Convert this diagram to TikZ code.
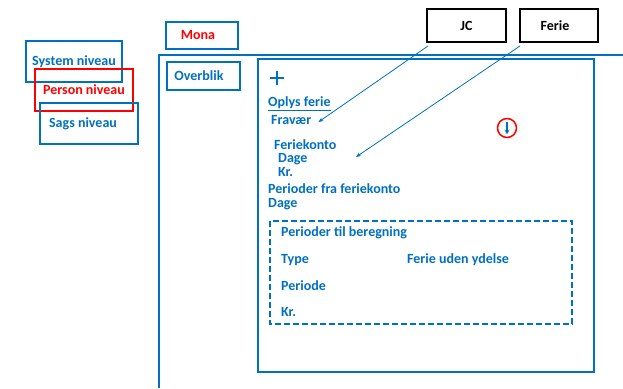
\documentclass[tikz,border=0pt]{standalone}
\usepackage{fontspec}
\setmainfont{Carlito}
\usetikzlibrary{arrows.meta}
\definecolor{mblue}{HTML}{0070C0}
\definecolor{mred}{HTML}{FF0000}
\begin{document}
\begin{tikzpicture}[x=1pt,y=-1pt,font=\bfseries\fontsize{14}{15}\selectfont,
 lvlbox/.style={draw=mblue,line width=1.6pt,text=mblue,inner sep=0pt},
 jcbox/.style={draw=black,line width=1.8pt,minimum height=33pt,inner sep=0pt},
 lbl/.style={text=mblue,anchor=base west,inner sep=0pt},
 pil/.style={draw=mblue,line width=0.8pt,-{Stealth[length=5pt,width=4pt]}}]
 \useasboundingbox (0,0) rectangle (623,388);
 \node[lvlbox,minimum width=96pt,minimum height=41pt] (system) at (74,61.5) {System niveau};
 \node[lvlbox,draw=mred,text=mred,minimum width=98pt,minimum height=42pt] (person) at (84,90) {\raisebox{-3pt}{Person niveau}};
 \node[lvlbox,minimum width=98pt,minimum height=41pt] (sags) at (89,123.5) {\raisebox{-4pt}{\hspace*{-12pt}Sags niveau}};
 \node[lvlbox,text=mred,minimum width=72pt,minimum height=27pt] (mona) at (202,35.5) {\hspace*{-8pt}Mona};
 \node[lvlbox,minimum width=73pt,minimum height=28pt] (overblik) at (203.5,76) {\hspace*{-9pt}Overblik};
 \draw[mblue,line width=1.6pt] (159,388) -- (159,55) -- (623,55);
 \draw[mblue,line width=1.6pt] (258,59) rectangle (594,372);
 \draw[mblue,line width=2.2pt] (270,78) -- (284,78);
 \draw[mblue,line width=2.2pt] (277,71) -- (277,85);
 \node[lbl] (oplys) at (268,106.5) {\underline{Oplys ferie}};
 \node[lbl] (fravaer) at (271,124.5) {Fravær};
 \node[lbl] (feriekonto) at (274,149.5) {Feriekonto};
 \node[lbl] (dage1) at (278,162.5) {Dage};
 \node[lbl] (kr1) at (278,176.5) {Kr.};
 \node[lbl] (perioderfra) at (268,193.5) {Perioder fra feriekonto};
 \node[lbl] (dage2) at (268,207.5) {Dage};
 \draw[mblue,line width=1.6pt,dash pattern=on 6pt off 3pt] (270,221) rectangle (572,324);
 \node[lbl] (periodertil) at (281,236.5) {Perioder til beregning};
 \node[lbl] (type) at (281,263.5) {Type};
 \node[lbl] (ferieuden) at (407,263.5) {Ferie uden ydelse};
 \node[lbl] (periode) at (281,290.5) {Periode};
 \node[lbl] (kr2) at (281,316.5) {Kr.};
 \node[jcbox,minimum width=79pt] (jc) at (466.5,25.5) {JC};
 \node[jcbox,minimum width=78pt] (ferie) at (559,25.5) {\hspace*{-8pt}Ferie};
 \node[circle,draw=mred,line width=1.5pt,minimum size=19pt,inner sep=0pt] (scroll) at (507,128) {};
 \draw[mblue,line width=1.3pt,-{Stealth[length=4.5pt,width=5pt]}] ([yshift=-4pt]scroll.north) -- ([yshift=4pt]scroll.south);
 \coordinate (ferietip) at (356,157);
 \draw[pil] ([xshift=2pt,yshift=-3pt]jc.south west) -- ([xshift=7pt,yshift=-2pt]fravaer.east);
 \draw[pil] ([xshift=1pt,yshift=-3pt]ferie.south west) -- (ferietip);
\end{tikzpicture}
\end{document}
